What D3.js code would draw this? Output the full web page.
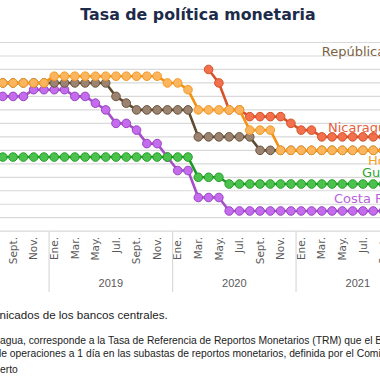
<!DOCTYPE html>
<html><head><meta charset="utf-8">
<script src="https://cdn.jsdelivr.net/npm/d3@7"></script>
<style>
html,body{margin:0;padding:0;background:#fff;overflow:hidden;}
svg{display:block;}
</style></head>
<body>
<svg id="c" width="380" height="380"></svg>
<script>
// ---- data ----
const months = [
 "2018-08","2018-09","2018-10","2018-11","2018-12",
 "2019-01","2019-02","2019-03","2019-04","2019-05","2019-06","2019-07","2019-08","2019-09","2019-10","2019-11","2019-12",
 "2020-01","2020-02","2020-03","2020-04","2020-05","2020-06","2020-07","2020-08","2020-09","2020-10","2020-11","2020-12",
 "2021-01","2021-02","2021-03","2021-04","2021-05","2021-06","2021-07","2021-08","2021-09"];
const monthNames = ["Ene.","Feb.","Mar.","Abr.","May.","Jun.","Jul.","Ago.","Sept.","Oct.","Nov.","Dic."];
const years = ["2018","2019","2020","2021"];
const yTicks = [0,0.5,1,1.5,2,2.5,3,3.5,4,4.5,5,5.5,6,6.5,7];

const costaRica = [5,5,5,5.25,5.25,5.25,5.25,5,5,4.75,4.5,4,4,3.75,3.25,3.25,2.75,2.25,2.25,1.25,1.25,1.25,
  0.75,0.75,0.75,0.75,0.75,0.75,0.75,0.75,0.75,0.75,0.75,0.75,0.75,0.75,0.75,0.75];
const repDominicana = [5.5,5.5,5.5,5.5,5.5,5.5,5.5,5.5,5.5,5.5,5.5,5,4.75,4.5,4.5,4.5,4.5,4.5,4.5,3.5,3.5,3.5,3.5,3.5,3.5,
  3,3,3,3,3,3,3,3,3,3,3,3,3];
const nicaragua = [null,null,null,null,null,null,null,null,null,null,null,null,null,null,null,null,null,null,null,null,
  6,5.5,4.5,4.5,4.25,4.25,4.25,4.25,4,3.75,3.75,3.5,3.5,3.5,3.5,3.5,3.5,3.5];
const honduras = [5.5,5.5,5.5,5.5,5.5,5.75,5.75,5.75,5.75,5.75,5.75,5.75,5.75,5.75,5.75,5.75,5.5,5.5,5.25,4.5,4.5,4.5,4.5,4.5,
  3.75,3.75,3.75,3,3,3,3,3,3,3,3,3,3,3];
const guatemala = [2.75,2.75,2.75,2.75,2.75,2.75,2.75,2.75,2.75,2.75,2.75,2.75,2.75,2.75,2.75,2.75,2.75,2.75,2.75,2,2,2,
  1.75,1.75,1.75,1.75,1.75,1.75,1.75,1.75,1.75,1.75,1.75,1.75,1.75,1.75,1.75,1.75];

const seriesNames = ["Costa Rica","República Dominicana","Nicaragua","Honduras","Guatemala"];
const seriesValues = [costaRica, repDominicana, nicaragua, honduras, guatemala];

// ---- styles ----
const styles = {
 "Costa Rica":          {line:"#A550C9", fill:"#C46BEE", stroke:"#9A45C0", label:"#B763DC", lx:334, ly:203},
 "República Dominicana":{line:"#5E4A2F", fill:"#9C8270", stroke:"#6A553B", label:"#7B6445", lx:321.7, ly:56},
 "Nicaragua":           {line:"#D5522A", fill:"#F2704C", stroke:"#D5522A", label:"#E5603A", lx:328, ly:131.5},
 "Honduras":            {line:"#F39212", fill:"#FBB55E", stroke:"#F39A25", label:"#F6A228", lx:368, ly:165},
 "Guatemala":           {line:"#1E9A22", fill:"#4CC24E", stroke:"#23A026", label:"#2EA531", lx:362, ly:177}
};

const svg = d3.select("#c");
const mw = 10.29;
const x0 = 49.1 - 5*mw;
const x = d3.scaleBand().domain(months).range([x0, x0 + months.length*mw]).padding(0);
const y = d3.scaleLinear().domain([0,7]).range([231.2, 42.5]);
const cx = m => x(m) + x.bandwidth()/2;

// gridlines
svg.append("g").selectAll("line").data(yTicks).join("line")
  .attr("x1",0).attr("x2",380)
  .attr("y1",d=>y(d)).attr("y2",d=>y(d))
  .attr("stroke","#D9D9D9").attr("stroke-width",1.2);

// title
svg.append("text").attr("x",198).attr("y",20.3).attr("text-anchor","middle")
  .attr("font-family","DejaVu Sans").attr("font-weight","bold").attr("font-size",15.8)
  .attr("fill","#1C2B49").text("Tasa de política monetaria");

// x axis: month labels
const ax = svg.append("g");
months.forEach(m => {
  const mi = +m.slice(5)-1;
  if (mi % 2 === 0) {
    const px = cx(m);
    ax.append("text").attr("transform",`translate(${px},237) rotate(-90)`)
      .attr("text-anchor","end").attr("dy","0.35em")
      .attr("font-family","DejaVu Sans").attr("font-size",10.5).attr("fill","#595959")
      .text(monthNames[mi]);
  }
});
// year separators & labels
years.forEach(yr => {
  const js = x(yr+"-01");
  const start = js !== undefined ? js : x("2019-01") - 12*mw;
  if (js !== undefined) {
    ax.append("line").attr("x1",js).attr("x2",js).attr("y1",231.2).attr("y2",292)
      .attr("stroke","#D9D9D9").attr("stroke-width",1.2);
  }
  ax.append("text").attr("x",start + 6*mw).attr("y",287).attr("text-anchor","middle")
    .attr("font-family","Liberation Sans").attr("font-size",11).attr("fill","#595959").text(yr);
});

// series
seriesNames.forEach((name,i) => {
  const st = styles[name];
  const pts = months.map((m,j)=>({m, v:seriesValues[i][j]})).filter(d=>d.v!==null);
  const line = d3.line().x(d=>cx(d.m)).y(d=>y(d.v));
  const g = svg.append("g");
  g.append("path").attr("d",line(pts)).attr("fill","none")
    .attr("stroke",st.line).attr("stroke-width",2.6).attr("stroke-linejoin","round");
  g.selectAll("circle").data(pts).join("circle")
    .attr("cx",d=>cx(d.m)).attr("cy",d=>y(d.v)).attr("r",4.3)
    .attr("fill",st.fill).attr("stroke",st.stroke).attr("stroke-width",1);
});
// series labels
seriesNames.forEach(name => {
  const st = styles[name];
  svg.append("text").attr("x",st.lx).attr("y",st.ly)
    .attr("font-family","DejaVu Sans").attr("font-size",13).attr("fill",st.label).text(name);
});

// notes
const notes = svg.append("g").attr("font-family","Liberation Sans").attr("fill","#222");
function splitText(pre, post, xpos, ypos, fs){
  notes.append("text").attr("x",xpos).attr("y",ypos).attr("text-anchor","end").attr("font-size",fs).text(pre);
  notes.append("text").attr("x",xpos).attr("y",ypos).attr("font-size",fs).text(post);
}
splitText("Fuente: elaboración propia con base en comu","nicados de los bancos centrales.",-0.5,319,11.6);
splitText("Nota: en el caso de Nicar","agua, corresponde a la Tasa de Referencia de Reportos Monetarios (TRM) que el Banco Central",0,343.5,10.3);
notes.append("text").attr("x",-4.5).attr("y",356.5).attr("font-size",10.3)
  .text("de operaciones a 1 día en las subastas de reportos monetarios, definida por el Comité de Mercado");
splitText("Abi","erto",0,372.5,10.3);
</script>
</body></html>
